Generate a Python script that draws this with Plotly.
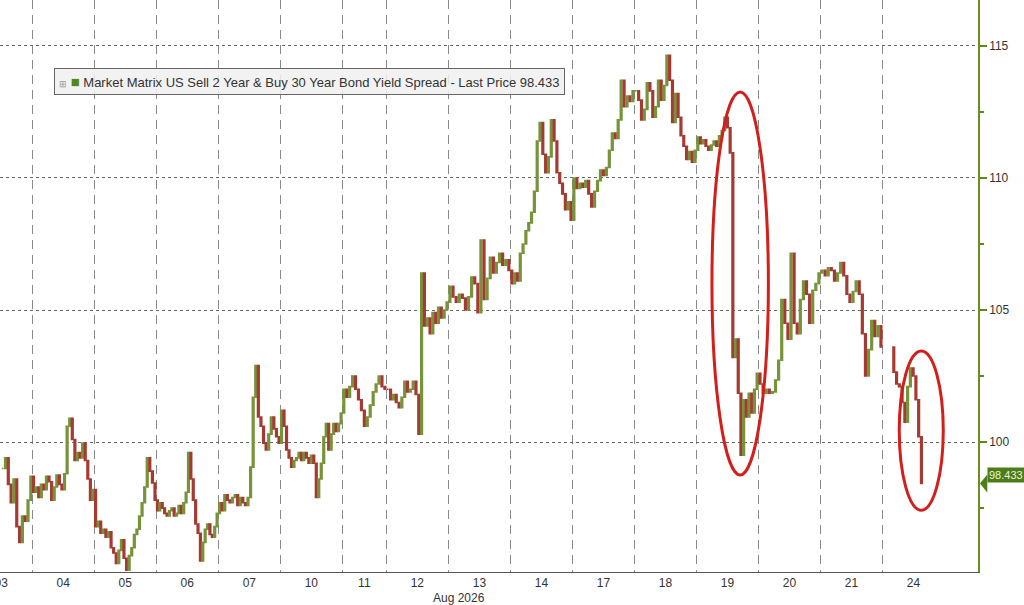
import plotly.graph_objects as go

# intraday closes, one list per trading day (Aug 2026)
day_labels = ["03", "04", "05", "06", "07", "10", "11", "12", "13", "14", "17", "18", "19", "20", "21", "24"]

aug03 = [99.0, 99.4, 98.4, 97.7, 98.6, 96.8, 96.2, 97.2, 97.0, 97.8, 98.7]
aug04 = [98.1, 98.3, 97.9, 98.4, 98.2, 98.7, 98.5, 97.8, 98.3, 98.75, 98.4, 98.2,
         98.8, 100.6, 100.9, 100.1, 99.3, 99.6, 99.4, 99.96, 99.3, 98.6, 97.8, 98.2]
aug05 = [96.8, 97.0, 96.55, 96.7, 96.4, 96.6, 96.0, 95.8, 95.4, 95.9, 96.3, 95.6,
         95.15, 95.7, 96.0, 96.5, 96.7, 97.2, 97.7, 98.3, 99.4, 98.9, 98.45, 97.8]
aug06 = [97.4, 97.7, 97.5, 97.3, 97.2, 97.4, 97.5, 97.2, 97.3, 97.6, 97.3, 97.7, 98.1,
         99.6, 98.6, 97.8, 96.9, 96.55, 95.5, 96.2, 96.7, 96.9, 96.5, 96.4, 96.8, 97.3]
aug07 = [97.7, 97.4, 98.0, 97.8, 97.7, 97.9, 98.0, 97.6, 97.9, 97.7, 97.6, 97.9,
         99.05, 101.7, 102.9, 100.95, 100.6, 99.96, 99.7, 100.3, 100.95, 100.5, 100.2, 99.96]
aug10 = [101.2, 100.6, 99.7, 99.4, 99.05, 99.3, 99.4, 99.6, 99.3, 99.6, 99.4, 99.2, 99.5,
         99.2, 97.9, 98.6, 99.2, 100.2, 100.7, 99.7, 100.3, 100.7, 100.4, 100.7, 101.1]
aug11 = [102.0, 101.7, 102.1, 102.5, 102.0, 101.6, 101.2, 100.6, 100.95, 101.4, 101.9,
         102.2, 102.5, 102.1, 102.0]
aug12 = [102.0, 101.6, 101.8, 101.5, 101.3, 101.7, 102.3, 101.9, 102.0, 102.3, 101.8,
         100.3, 106.4, 104.4, 104.7, 104.1, 104.9, 104.5, 105.1, 104.7, 105.0, 105.3]
aug13 = [105.9, 105.5, 105.3, 105.6, 105.45, 105.0, 105.5, 106.25, 106.0, 104.9, 107.65,
         105.4, 106.2, 107.0, 106.4, 106.8, 107.15, 106.7, 106.9, 106.5]
aug14 = [106.0, 106.4, 106.1, 107.15, 107.5, 108.0, 108.3, 108.7, 109.5, 111.4, 112.1,
         110.9, 110.2, 110.8, 112.2, 111.4, 110.2, 109.8, 109.4, 108.8, 109.1, 108.4]
aug17 = [110.0, 109.6, 109.8, 109.65, 109.9, 109.4, 108.9, 109.5, 109.9, 110.3, 110.1,
         110.4, 111.05, 111.7, 111.5, 112.2, 113.7, 112.7, 113.1, 112.9, 113.3]
aug18 = [113.3, 112.95, 112.2, 112.6, 113.6, 113.3, 112.3, 112.7, 113.7, 112.95, 113.5,
         114.65, 113.7, 112.1, 113.2, 112.3, 111.6, 111.2, 110.7, 111.0, 110.6, 111.05]
aug19 = [111.55, 111.3, 111.45, 111.2, 111.05, 111.25, 111.4, 111.2, 111.6, 111.8, 112.3,
         111.9, 110.95, 103.2, 103.9, 101.85, 99.5, 101.6, 100.95, 101.85, 101.1, 102.0, 102.6]
aug20 = [102.2, 101.85, 102.0, 101.85, 101.9, 102.35, 103.1, 105.4, 104.5, 103.9, 107.15,
         104.5, 104.1, 105.4, 106.1, 105.6, 104.5, 105.75, 106.0, 106.4]
aug21 = [106.5, 106.3, 106.6, 106.5, 106.1, 106.4, 106.8, 106.3, 105.6, 105.3, 105.7,
         106.1, 105.6, 104.1, 102.5, 103.5, 104.6, 104.0, 104.4, 103.6]
aug24 = [102.65, 102.2, 102.1, 101.5, 100.75, 102.1, 102.8, 102.5, 101.6, 100.2, 98.433]

last_price = 98.433
days = [aug03, aug04, aug05, aug06, aug07, aug10, aug11, aug12, aug13, aug14,
        aug17, aug18, aug19, aug20, aug21, aug24]

# session layout on a "day units" axis (day 11 is drawn shorter, 03/24 partial)
day_width = {"11": 0.71}
day_span = {"03": (0.5, 1.0), "24": (0.16, 0.65)}

xs, closes, starts, centers = [], [], [], []
pos = 0.0
for lab, vals in zip(day_labels, days):
    w = day_width.get(lab, 1.0)
    a, b = day_span.get(lab, (0.0, 1.0))
    n = len(vals)
    for i, v in enumerate(vals):
        xs.append(pos + w * (a + (b - a) * (i + 0.5) / n))
        closes.append(v)
    starts.append(pos)
    centers.append(pos + w / 2)
    pos += w

opens = [closes[0]] + closes[:-1]
highs = [max(o, c) for o, c in zip(opens, closes)]
lows = [min(o, c) for o, c in zip(opens, closes)]

x_range = [0.48, 16.25]
y_range = [95.08, 116.74]
font = "Liberation Sans"

fig = go.Figure(go.Candlestick(
    x=xs, open=opens, high=highs, low=lows, close=closes,
    increasing=dict(line=dict(color="#76933a", width=1.6), fillcolor="#5e9216"),
    decreasing=dict(line=dict(color="#a53a33", width=1.6), fillcolor="#b3261e"),
    whiskerwidth=0, showlegend=False,
))

# red ellipses
fig.add_shape(type="circle", xref="x", yref="y", x0=11.96, x1=12.87, y0=98.75, y1=113.26,
              line=dict(color="#d21f1b", width=3))
fig.add_shape(type="circle", xref="x", yref="y", x0=14.98, x1=15.69, y0=97.42, y1=103.45,
              line=dict(color="#d21f1b", width=3))

# last price tag on the right axis (notch + label)
yp = (last_price - y_range[0]) / (y_range[1] - y_range[0])
h = 9 / 572
fig.add_shape(type="path", xref="paper", yref="paper",
              path=f"M 1.002 {yp} L 1.0095 {yp + h} L 1.0095 {yp - h} Z",
              fillcolor="#4c7d19", line=dict(width=0))
fig.add_annotation(x=1.0092, y=yp, xref="paper", yref="paper", xanchor="left",
                   text=f"{last_price:.3f}", showarrow=False, bgcolor="#4c7d19",
                   borderpad=1, font=dict(family=font, size=11, color="#e9f3dc"))

# legend box
fig.add_annotation(
    x=54 / 978, y=1 - 68 / 572, xref="paper", yref="paper", xanchor="left", yanchor="top",
    text="<span style='color:#999;font-size:9px'>⊞</span> <span style='color:#4e8a14;font-size:15px'>■</span> "
         "Market Matrix US Sell 2 Year &amp; Buy 30 Year Bond Yield Spread - Last Price 98.433",
    showarrow=False, align="left", font=dict(family=font, size=13, color="#333"),
    bgcolor="rgba(240,240,240,0.85)", bordercolor="#666", borderwidth=1, borderpad=4,
)

fig.add_annotation(x=459 / 978, y=-26 / 572, xref="paper", yref="paper", yanchor="middle",
                   text="Aug 2026", showarrow=False, font=dict(family=font, size=12, color="#333"))

fig.update_layout(
    width=1024, height=605,
    margin=dict(l=0, r=46, t=0, b=33),
    paper_bgcolor="white", plot_bgcolor="white",
    font=dict(family=font, size=12, color="#333"),
    boxgap=0.05,
    xaxis=dict(
        range=x_range, rangeslider=dict(visible=False), automargin=False,
        tickmode="array", tickvals=centers, ticktext=day_labels, ticks="",
        ticklabeloverflow="allow",
        showgrid=False, zeroline=False, showline=True, linecolor="#555", linewidth=1,
        minor=dict(tickmode="array", tickvals=starts[1:], showgrid=True,
                   gridcolor="#8a8a8a", griddash="9px,6px", gridwidth=1.2, ticks=""),
    ),
    yaxis=dict(
        side="right", range=y_range, automargin=False,
        tickmode="array", tickvals=[100, 105, 110, 115],
        ticks="outside", ticklen=7, tickcolor="#5d8a1e", tickwidth=1.5,
        showline=True, linecolor="#6b8e23", linewidth=1.5, zeroline=False,
        showgrid=True, gridcolor="#666", griddash="dot", gridwidth=1,
        minor=dict(tickmode="array", tickvals=[97.5, 102.5, 107.5, 112.5],
                   ticks="outside", ticklen=4, tickcolor="#5d8a1e", showgrid=False),
    ),
)

fig.write_html("out.html", config={"displayModeBar": False},
               post_script="document.body.style.margin='0';")
